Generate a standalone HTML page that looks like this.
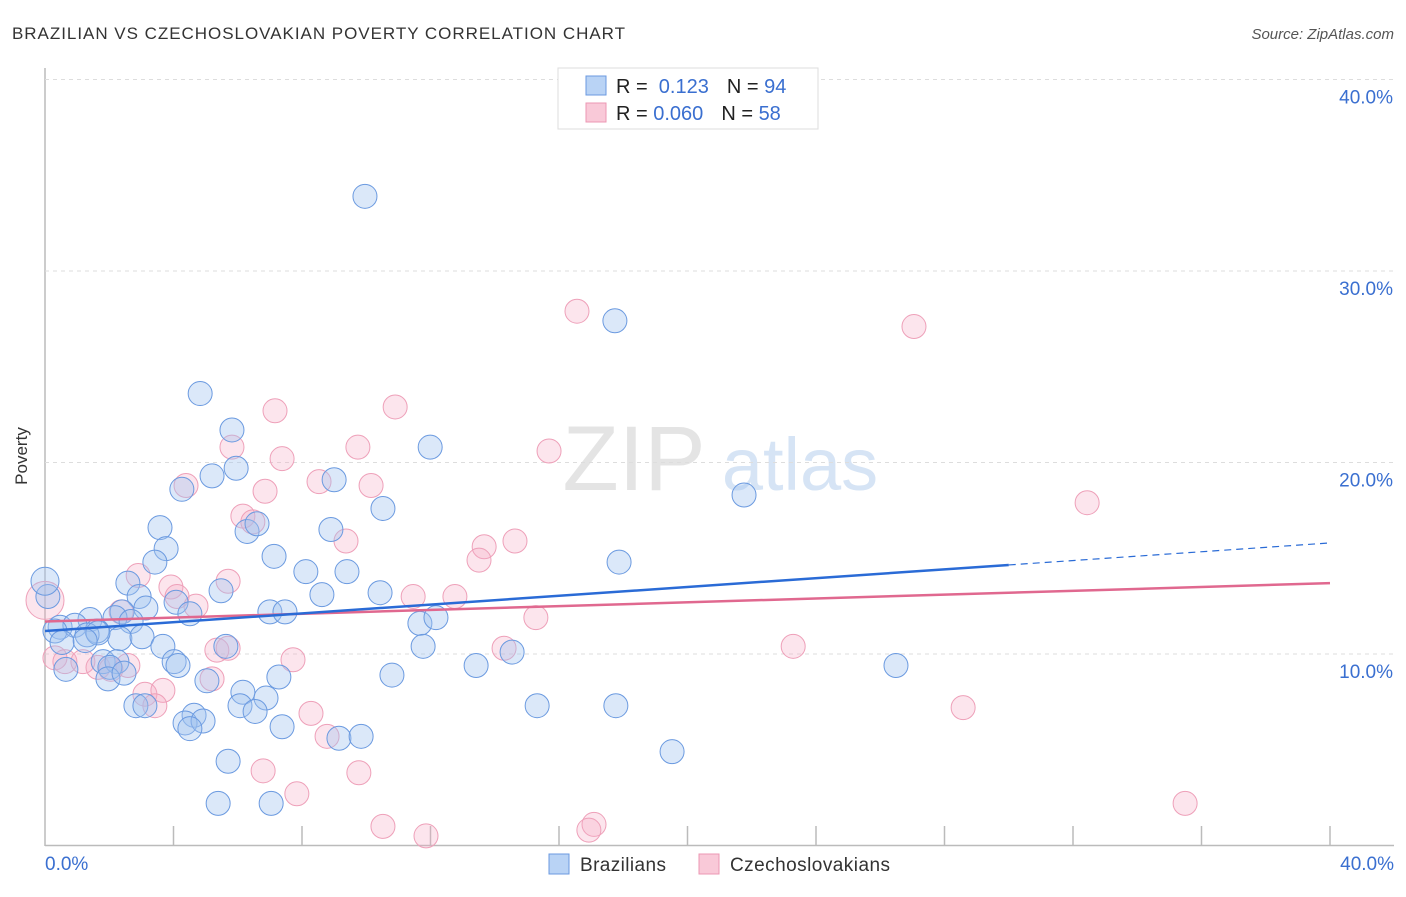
<!DOCTYPE html>
<html><head><meta charset="utf-8"><style>
body{margin:0;background:#fff;font-family:"Liberation Sans",sans-serif}
svg text{font-family:"Liberation Sans",sans-serif}
</style></head><body>
<svg id="c" width="1406" height="892" viewBox="0 0 1406 892" xmlns="http://www.w3.org/2000/svg">
<text x="12" y="39" font-size="17" fill="#333" textLength="613">BRAZILIAN VS CZECHOSLOVAKIAN POVERTY CORRELATION CHART</text>
<text x="1394" y="39" font-size="15" fill="#555" text-anchor="end" font-style="italic">Source: ZipAtlas.com</text>
<text x="27" y="456" font-size="17" fill="#333" text-anchor="middle" transform="rotate(-90 27 456)">Poverty</text>
<g><text x="634" y="490" font-size="92" fill="#e4e4e4" text-anchor="middle" font-family="Liberation Serif">ZIP</text><text x="800" y="490" font-size="74" fill="#d6e4f5" text-anchor="middle">atlas</text></g>
<g id="grid"></g><g id="pts"></g><g id="lines"></g>
<g>
<rect x="558" y="68" width="260" height="61" fill="#fff" stroke="#ddd"/>
<rect x="586" y="76" width="20" height="19" fill="#b9d3f5" stroke="#6b9ae0"/>
<rect x="586" y="103" width="20" height="19" fill="#f9c9d8" stroke="#ec97b3"/>
<text x="616" y="93" font-size="20" fill="#222">R = <tspan fill="#3a6fd0">&#160;0.123</tspan><tspan dx="18">N = </tspan><tspan fill="#3a6fd0">94</tspan></text>
<text x="616" y="120" font-size="20" fill="#222">R = <tspan fill="#3a6fd0">0.060</tspan><tspan dx="18">N = </tspan><tspan fill="#3a6fd0">58</tspan></text>
</g>
<g>
<rect x="549" y="854" width="20" height="20" fill="#b9d3f5" stroke="#6b9ae0"/>
<text x="580" y="871" font-size="19" fill="#333" textLength="86">Brazilians</text>
<rect x="699" y="854" width="20" height="20" fill="#f9c9d8" stroke="#ec97b3"/>
<text x="730" y="871" font-size="19" fill="#333" textLength="160">Czechoslovakians</text>
</g>
</svg>
<script>
const xTicks=[0,4,8,12,16,20,24,28,32,36,40];
const yTicks=[10,20,30,40];
const yTickLabels=["10.0%","20.0%","30.0%","40.0%"];
const blueX=[9.96,17.74,4.83,5.82,11.99,5.2,5.95,4.26,9.0,21.76,3.58,10.52,6.29,6.6,8.9,3.77,3.42,7.13,17.87,8.12,9.4,2.58,5.48,0.09,10.43,8.62,2.93,4.08,3.14,2.4,7.0,7.47,4.51,1.4,2.18,2.68,11.67,12.17,0.47,0.93,0.31,1.62,1.31,2.33,3.02,1.65,0.53,1.25,5.63,3.67,11.77,14.54,13.42,26.49,4.02,4.14,1.81,2.24,0.65,2.02,1.96,2.46,7.28,10.8,5.04,6.16,6.88,6.07,6.54,2.83,3.11,15.32,17.77,4.64,4.36,4.92,4.51,7.38,9.15,9.84,19.52,5.7,5.39,7.04,0.0];
const blueY=[33.9,27.4,23.6,21.7,20.8,19.3,19.7,18.6,19.1,18.3,16.6,17.6,16.4,16.8,16.5,15.5,14.8,15.1,14.8,14.3,14.3,13.7,13.3,13.0,13.2,13.1,13.0,12.7,12.4,12.2,12.2,12.2,12.1,11.8,11.9,11.7,11.6,11.9,11.4,11.5,11.2,11.2,11.0,10.8,10.9,11.1,10.6,10.7,10.4,10.4,10.4,10.1,9.4,9.4,9.6,9.4,9.6,9.6,9.2,9.3,8.7,9.0,8.8,8.9,8.6,8.0,7.7,7.3,7.0,7.3,7.3,7.3,7.3,6.8,6.4,6.5,6.1,6.2,5.6,5.7,4.9,4.4,2.2,2.2,13.8];
const pinkX=[16.56,27.05,7.16,10.9,5.82,9.74,15.69,7.38,4.39,8.53,10.15,6.85,6.16,32.44,6.47,9.37,14.63,13.67,13.51,2.9,5.7,3.92,4.11,12.76,11.46,4.7,2.37,15.28,0.0,5.35,5.7,14.29,23.29,0.31,0.62,1.18,1.65,2.58,7.72,2.05,5.2,3.11,3.67,3.42,8.28,28.58,8.78,9.77,6.79,7.84,35.49,10.52,17.09,16.93,11.86];
const pinkY=[27.9,27.1,22.7,22.9,20.8,20.8,20.6,20.2,18.8,19.0,18.8,18.5,17.2,17.9,16.9,15.9,15.9,15.6,14.9,14.1,13.8,13.5,13.0,13.0,13.0,12.5,12.2,11.9,12.8,10.2,10.3,10.3,10.4,9.8,9.6,9.6,9.3,9.4,9.7,9.2,8.7,7.9,8.1,7.3,6.9,7.2,5.7,3.8,3.9,2.7,2.2,1.0,1.1,0.8,0.5];
const blueTrend=[11.2,0.115];
const pinkTrend=[11.7,0.05];
const X=v=>45+v*1285/40, Y=v=>845.5-v*19.15;
const NS="http://www.w3.org/2000/svg";
function mk(t,a,p){const e=document.createElementNS(NS,t);for(const k in a)e.setAttribute(k,a[k]);p.appendChild(e);return e;}
const g=document.getElementById('grid');
let ax=mk('line',{x1:45,y1:68,x2:45,y2:846,stroke:'#bbb','stroke-width':1.5},g);


let bx=mk('line',{x1:45,y1:845.5,x2:1394,y2:845.5,stroke:'#bbb','stroke-width':1.5},g);


yTicks.forEach((t,i)=>{
 let l=mk('line',{x1:45,y1:Y(t),x2:1394,y2:Y(t),stroke:'#ddd','stroke-dasharray':'4,4'},g);
 
 
 let tx=mk('text',{x:1393,y:Y(t)+24,'font-size':19,fill:'#3a6fd0','text-anchor':'end'},g);
 tx.textContent=yTickLabels[i];
 
 
});
xTicks.forEach(t=>{
 if(t===0)return;
 let l=mk('line',{x1:X(t),y1:826,x2:X(t),y2:846,stroke:'#bbb','stroke-width':1.5},g);
 
 
});
let x0=mk('text',{x:45,y:870,'font-size':19,fill:'#3a6fd0'},g);x0.textContent='0.0%';


let x1=mk('text',{x:1394,y:870,'font-size':19,fill:'#3a6fd0','text-anchor':'end'},g);x1.textContent='40.0%';


const p=document.getElementById('pts');
pinkX.forEach((v,i)=>{
 let c=mk('circle',{cx:X(v),cy:Y(pinkY[i]),r:i===28?19:12,fill:'rgba(245,170,195,0.3)',stroke:'#eea0b9','stroke-width':1},p);
 
 
});
blueX.forEach((v,i)=>{
 let c=mk('circle',{cx:X(v),cy:Y(blueY[i]),r:i===84?14:12,fill:'rgba(160,195,240,0.38)',stroke:'#6b9ae0','stroke-width':1},p);
 
 
});
const L=document.getElementById('lines');
let pl=mk('line',{x1:X(0),y1:Y(pinkTrend[0]),x2:X(40),y2:Y(pinkTrend[0]+pinkTrend[1]*40),stroke:'#e0688f','stroke-width':2.5},L);


let bl=mk('line',{x1:X(0),y1:Y(blueTrend[0]),x2:X(30),y2:Y(blueTrend[0]+blueTrend[1]*30),stroke:'#2a6bd6','stroke-width':2.5},L);


let bd=mk('line',{x1:X(30),y1:Y(blueTrend[0]+blueTrend[1]*30),x2:X(40),y2:Y(blueTrend[0]+blueTrend[1]*40),stroke:'#2a6bd6','stroke-width':1.2,'stroke-dasharray':'7,5'},L);


</script>
</body></html>
